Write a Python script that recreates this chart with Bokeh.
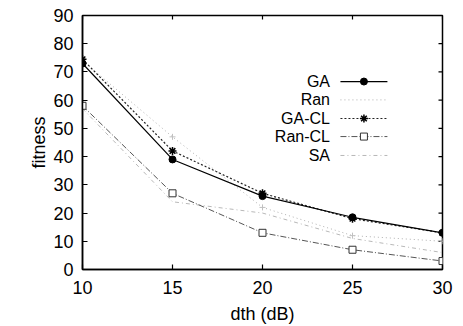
from bokeh.plotting import figure
from bokeh.models import Range1d, FixedTicker, Label
from bokeh.embed import file_html
from bokeh.resources import INLINE

dth = [10, 15, 20, 25, 30]
ga = [73, 39, 26, 18.5, 13]
ran = [74, 47, 22, 12, 10]
ga_cl = [74.5, 42, 27, 18, 13]
ran_cl = [58, 27, 13, 7, 3]
sa = [57, 24, 20, 11, 6]

x_ticks = [10, 15, 20, 25, 30]
y_ticks = [0, 10, 20, 30, 40, 50, 60, 70, 80, 90]
legend_names = ["GA", "Ran", "GA-CL", "Ran-CL", "SA"]

FONT = "Liberation Sans"
X0, X1, Y0, Y1 = 10, 30, 0, 90

p = figure(width=463, height=326, output_backend="svg", toolbar_location=None,
           x_range=Range1d(X0, X1), y_range=Range1d(Y0, Y1),
           min_border_left=82, min_border_right=21, min_border_top=15, min_border_bottom=57)
p.grid.visible = False
p.outline_line_color = "black"
p.outline_line_width = 1.5

for ax in (p.xaxis[0], p.yaxis[0]):
    ax.major_tick_in = 5
    ax.major_tick_out = 0
    ax.minor_tick_in = 0
    ax.minor_tick_out = 0
    ax.axis_line_color = "black"
    ax.axis_line_width = 1.5
    ax.major_tick_line_color = "black"
    ax.major_tick_line_width = 1.2
    ax.major_label_text_font = FONT
    ax.major_label_text_font_size = "18px"
    ax.major_label_text_color = "black"
    ax.axis_label_text_font = FONT
    ax.axis_label_text_font_size = "18px"
    ax.axis_label_text_font_style = "normal"
    ax.axis_label_text_color = "black"

p.xaxis[0].ticker = FixedTicker(ticks=x_ticks)
p.yaxis[0].ticker = FixedTicker(ticks=y_ticks)
p.xaxis[0].axis_label = "dth (dB)"
p.yaxis[0].axis_label = "fitness"
p.xaxis[0].major_label_standoff = 11
p.yaxis[0].major_label_standoff = 9
p.xaxis[0].axis_label_standoff = 7
p.yaxis[0].axis_label_standoff = 1

# mirrored ticks on top and right edges (no labels)
tx = 4 / 18.0          # tick length in x data units (~4 px)
ty = 4 / (254 / 90.0)  # tick length in y data units (~4 px)
p.segment(x0=x_ticks, y0=[Y1] * len(x_ticks), x1=x_ticks, y1=[Y1 - ty] * len(x_ticks),
          line_color="black", line_width=1.2)
p.segment(x0=[X1] * len(y_ticks), y0=y_ticks, x1=[X1 - tx] * len(y_ticks), y1=y_ticks,
          line_color="black", line_width=1.2)

# series
p.line(dth, sa, line_color="#b8b8b8", line_width=1, line_dash="4 3 1 3")
p.line(dth, ran, line_color="#b0b0b0", line_width=1, line_dash="1 3")
p.scatter(dth, ran, marker="cross", size=6, line_color="#c0c0c0")
p.line(dth, ran_cl, line_color="#555555", line_width=1, line_dash="6 2 1 2")
p.scatter(dth, ran_cl, marker="square", size=7, fill_color="white", line_color="#333333")
p.line(dth, ga_cl, line_color="#222222", line_width=1.2, line_dash="2 2")
p.scatter(dth, ga_cl, marker="asterisk", size=8, line_color="black", line_width=1.5)
p.line(dth, ga, line_color="black", line_width=1.2)
p.scatter(dth, ga, marker="circle", size=7, fill_color="black", line_color="black")

# legend (drawn manually: label to the left of its sample)
leg_y = [66.6, 60.1, 53.5, 47.1, 40.4]
lx0, lx1 = 24.33, 26.94
lxm = (lx0 + lx1) / 2
styles = [
    dict(line_color="black", line_width=1.2),
    dict(line_color="#b0b0b0", line_width=1, line_dash="1 3"),
    dict(line_color="#222222", line_width=1.2, line_dash="2 2"),
    dict(line_color="#555555", line_width=1, line_dash="6 2 1 2"),
    dict(line_color="#b8b8b8", line_width=1, line_dash="4 3 1 3"),
]
for name, yy, st in zip(legend_names, leg_y, styles):
    p.line([lx0, lx1], [yy, yy], **st)
    p.add_layout(Label(x=23.75, y=yy, text=name, text_align="right", text_baseline="middle",
                       text_font=FONT, text_font_size="16px", text_color="black"))
p.scatter([lxm], [leg_y[0]], marker="circle", size=7, fill_color="black", line_color="black")
p.scatter([lxm], [leg_y[2]], marker="asterisk", size=8, line_color="black", line_width=1.5)
p.scatter([lxm], [leg_y[3]], marker="square", size=7, fill_color="white", line_color="#333333")

open("out.html", "w").write(file_html(p, INLINE))
